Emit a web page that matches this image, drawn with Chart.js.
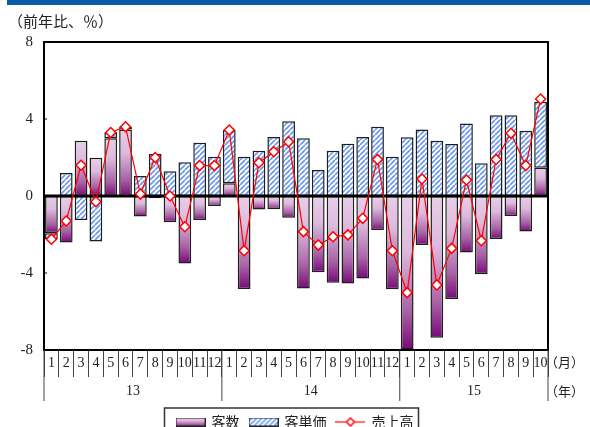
<!DOCTYPE html>
<html>
<head>
<meta charset="utf-8">
<script src="https://cdn.jsdelivr.net/npm/chart.js@4.4.1/dist/chart.umd.min.js"></script>
<style>
  html, body { margin: 0; padding: 0; background: #fff; overflow: hidden; }
  #wrap { position: relative; width: 590px; height: 439px; }
</style>
</head>
<body>
<div id="wrap"><canvas id="c"></canvas></div>
<script>
// Month labels (2013/1 .. 2015/10)
const months = ['1','2','3','4','5','6','7','8','9','10','11','12',
                '1','2','3','4','5','6','7','8','9','10','11','12',
                '1','2','3','4','5','6','7','8','9','10'];
// Year groups under the month row
const years = ['13', '14', '15'];
const yearLengths = [12, 12, 10];
// Year-on-year change, %
const customers = [-1.94, -2.42, 2.87, 1.99, 3.0, 3.45, -1.07, -0.12, -1.37, -3.5, -1.25, -0.52,
                   0.66, -4.83, -0.7, -0.69, -1.13, -4.8, -3.96, -4.5, -4.55, -4.28, -1.77, -4.84,
                   -7.97, -2.55, -7.36, -5.35, -2.94, -4.07, -2.23, -1.04, -1.84, 1.47];
const spend = [-0.31, 1.2, -1.25, -2.37, 0.31, 0.15, 1.04, 2.18, 1.28, 1.75, 2.77, 2.04,
               2.77, 2.04, 2.35, 3.06, 3.88, 3.0, 1.35, 2.35, 2.72, 3.06, 3.6, 2.04,
               3.05, 3.46, 2.87, 2.7, 3.77, 1.7, 4.19, 4.19, 3.39, 3.43];
const sales = [-2.25, -1.3, 1.6, -0.3, 3.3, 3.6, 0.1, 2.0, 0.0, -1.6, 1.58, 1.58,
               3.43, -2.84, 1.73, 2.3, 2.82, -1.85, -2.55, -2.12, -2.02, -1.16, 1.9, -2.84,
               -5.02, 0.88, -4.62, -2.72, 0.83, -2.32, 1.9, 3.26, 1.58, 5.04];
const yTicks = [8, 4, 0, -4, -8];
const seriesNames = ['客数', '客単価', '売上高'];

const canvas = document.getElementById('c');
const ctx2d = canvas.getContext('2d');

const SERIF = "'Liberation Serif', 'DejaVu Serif', serif";
const CJK = "'Noto Sans CJK JP', sans-serif";

// Diagonal blue hatch fill
function makeHatch() {
  const n = 5;
  const c = document.createElement('canvas');
  c.width = n; c.height = n;
  const g = c.getContext('2d');
  g.fillStyle = '#ffffff';
  g.fillRect(0, 0, n, n);
  g.strokeStyle = '#6b98ee';
  g.lineWidth = 1.7;
  g.beginPath();
  for (const o of [-n, 0, n]) { g.moveTo(o, n); g.lineTo(o + n, 0); }
  g.stroke();
  return ctx2d.createPattern(c, 'repeat');
}
const hatch = makeHatch();

function purpleGradient(g, top, bottom) {
  const gr = g.createLinearGradient(0, top, 0, bottom);
  gr.addColorStop(0, '#e8cee8');
  gr.addColorStop(0.35, '#ddbadd');
  gr.addColorStop(0.75, '#a963a6');
  gr.addColorStop(1, '#770a77');
  return gr;
}

// Vertical gradient across each customer bar (light top, dark bottom)
function customerFill(c) {
  const chart = c.chart;
  if (!chart.chartArea || c.type !== 'data') return '#b070b0';
  const ys = chart.scales.y;
  const v = c.raw;
  const top = ys.getPixelForValue(Math.max(0, v));
  const bottom = ys.getPixelForValue(Math.min(0, v));
  if (bottom - top < 2) return '#7a127a';
  return purpleGradient(chart.ctx, top, bottom);
}

// Legend swatches
function swatchCustomers() {
  const c = document.createElement('canvas'); c.width = 30; c.height = 9;
  const g = c.getContext('2d');
  g.fillStyle = purpleGradient(g, 0, 9);
  g.fillRect(0, 0, 30, 9);
  g.strokeStyle = '#222'; g.lineWidth = 1;
  g.strokeRect(0.5, 0.5, 29, 8);
  return c;
}
function swatchSpend() {
  const c = document.createElement('canvas'); c.width = 30; c.height = 9;
  const g = c.getContext('2d');
  g.fillStyle = '#fff'; g.fillRect(0, 0, 30, 9);
  g.strokeStyle = '#6b98ee'; g.lineWidth = 1.6;
  g.beginPath();
  for (let o = -10; o < 40; o += 5) { g.moveTo(o, 9); g.lineTo(o + 9, 0); }
  g.stroke();
  g.strokeStyle = '#222'; g.lineWidth = 1;
  g.strokeRect(0.5, 0.5, 29, 8);
  return c;
}
function swatchSales() {
  const c = document.createElement('canvas'); c.width = 30; c.height = 11;
  const g = c.getContext('2d');
  g.strokeStyle = '#ff0000'; g.lineWidth = 1.2;
  g.beginPath(); g.moveTo(0, 5.5); g.lineTo(30, 5.5); g.stroke();
  g.beginPath();
  g.moveTo(15, 1.5); g.lineTo(19, 5.5); g.lineTo(15, 9.5); g.lineTo(11, 5.5); g.closePath();
  g.fillStyle = '#fff'; g.fill();
  g.lineWidth = 1.5; g.stroke();
  return c;
}
const swatches = [swatchCustomers(), swatchSpend(), swatchSales()];

// Frame, zero line, year row, units and legend box
const decor = {
  id: 'decor',
  beforeDraw(chart) {
    const g = chart.ctx;
    g.save();
    g.fillStyle = '#0b5ca8';
    g.fillRect(7, 0, 583, 5);
    g.restore();
  },
  beforeDatasetDraw(chart, args) {
    if (args.index !== 0) return;
    const g = chart.ctx, a = chart.chartArea;
    const y0 = chart.scales.y.getPixelForValue(0);
    g.save();
    g.strokeStyle = '#000'; g.lineWidth = 3;
    g.beginPath(); g.moveTo(a.left, y0); g.lineTo(a.right, y0); g.stroke();
    g.restore();
  },
  afterDraw(chart) {
    const g = chart.ctx, a = chart.chartArea;
    const xs = chart.scales.x, ys = chart.scales.y;
    g.save();
    // plot frame
    g.strokeStyle = '#000'; g.lineWidth = 2;
    g.strokeRect(a.left, a.top, a.right - a.left, a.bottom - a.top);
    // small inner ticks on the value axis
    g.lineWidth = 1;
    yTicks.forEach(v => {
      const y = ys.getPixelForValue(v);
      g.beginPath(); g.moveTo(a.left, y); g.lineTo(a.left + 3, y); g.stroke();
    });
    // year separators and labels
    g.strokeStyle = '#444'; g.lineWidth = 1;
    g.fillStyle = '#222';
    g.font = '14px ' + SERIF;
    g.textAlign = 'center'; g.textBaseline = 'middle';
    let start = 0;
    const edge = i => xs.getPixelForValue(i - 0.5);
    g.beginPath(); g.moveTo(edge(0), a.bottom); g.lineTo(edge(0), 401); g.stroke();
    years.forEach((yr, k) => {
      const end = start + yearLengths[k];
      const xr = edge(end);
      g.beginPath(); g.moveTo(xr, a.bottom); g.lineTo(xr, 401); g.stroke();
      g.fillText(yr, (edge(start) + xr) / 2, 391);
      start = end;
    });
    // unit labels
    g.font = '13px ' + CJK;
    g.textAlign = 'left';
    g.fillText('（月）', 545, 362);
    g.fillText('（年）', 545, 391);
    g.font = '15px ' + CJK;
    g.fillText('（前年比、％）', 8, 21);
    // legend frame
    const hb = chart.legend.legendHitBoxes;
    if (hb && hb.length) {
      const last = hb[hb.length - 1];
      const left = hb[0].left - 12;
      const right = last.left + last.width + 5;
      const top = chart.legend.top + 3;
      g.strokeStyle = '#333'; g.lineWidth = 1.5;
      g.strokeRect(left, top, right - left, 60);
    }
    g.restore();
  }
};

new Chart(canvas, {
  data: {
    labels: months,
    datasets: [
      {
        type: 'line', label: seriesNames[2], data: sales, stack: 'line',
        borderColor: '#ff0000', borderWidth: 1.2,
        pointStyle: 'rectRot', pointRadius: 5,
        pointBackgroundColor: '#ffffff', pointBorderColor: '#ff0000', pointBorderWidth: 1.5,
        tension: 0, fill: false
      },
      {
        type: 'bar', label: seriesNames[0], data: customers, stack: 'bars',
        backgroundColor: customerFill, borderColor: '#1e1e1e', borderWidth: 1.5,
        borderSkipped: false, barPercentage: 0.86, categoryPercentage: 1
      },
      {
        type: 'bar', label: seriesNames[1], data: spend, stack: 'bars',
        backgroundColor: hatch, borderColor: '#1e1e1e', borderWidth: 1.5,
        borderSkipped: false, barPercentage: 0.86, categoryPercentage: 1
      }
    ]
  },
  options: {
    responsive: true,
    maintainAspectRatio: false,
    devicePixelRatio: 1,
    animation: false,
    events: [],
    layout: { padding: { top: 42, right: 0, left: 0, bottom: 0 } },
    scales: {
      x: {
        stacked: true,
        offset: true,
        grid: { display: true, drawOnChartArea: false, offset: true, tickLength: 27, color: '#444', lineWidth: 1 },
        border: { display: true, color: '#000', width: 2 },
        ticks: {
          autoSkip: false, maxRotation: 0, minRotation: 0, padding: -22,
          color: '#222', font: { family: SERIF, size: 14 }
        },
        afterFit: s => { s.height = 55; }
      },
      y: {
        stacked: true,
        min: -8, max: 8,
        afterBuildTicks: s => { s.ticks = yTicks.map(v => ({ value: v })); },
        grid: { display: false, drawTicks: false },
        border: { display: true, color: '#000', width: 2 },
        ticks: { padding: 11, color: '#222', font: { family: SERIF, size: 15 }, callback: v => String(v) },
        afterFit: s => { s.width = 44; }
      },
      // empty right-hand margin column that holds the unit labels
      yMargin: {
        type: 'linear', position: 'right', min: -8, max: 8,
        grid: { display: false, drawTicks: false },
        border: { display: false },
        ticks: { display: false },
        afterFit: s => { s.width = 42; }
      }
    },
    plugins: {
      tooltip: { enabled: false },
      legend: {
        position: 'bottom',
        labels: {
          usePointStyle: true,
          pointStyleWidth: 28,
          padding: 10,
          color: '#222',
          font: { family: CJK, size: 14 },
          generateLabels: () => [0, 1, 2].map(i => ({
            text: seriesNames[i],
            pointStyle: swatches[i],
            fillStyle: 'rgba(0,0,0,0)', strokeStyle: 'rgba(0,0,0,0)', lineWidth: 0,
            fontColor: '#222', hidden: false
          }))
        }
      }
    }
  },
  plugins: [decor]
});
</script>
</body>
</html>
